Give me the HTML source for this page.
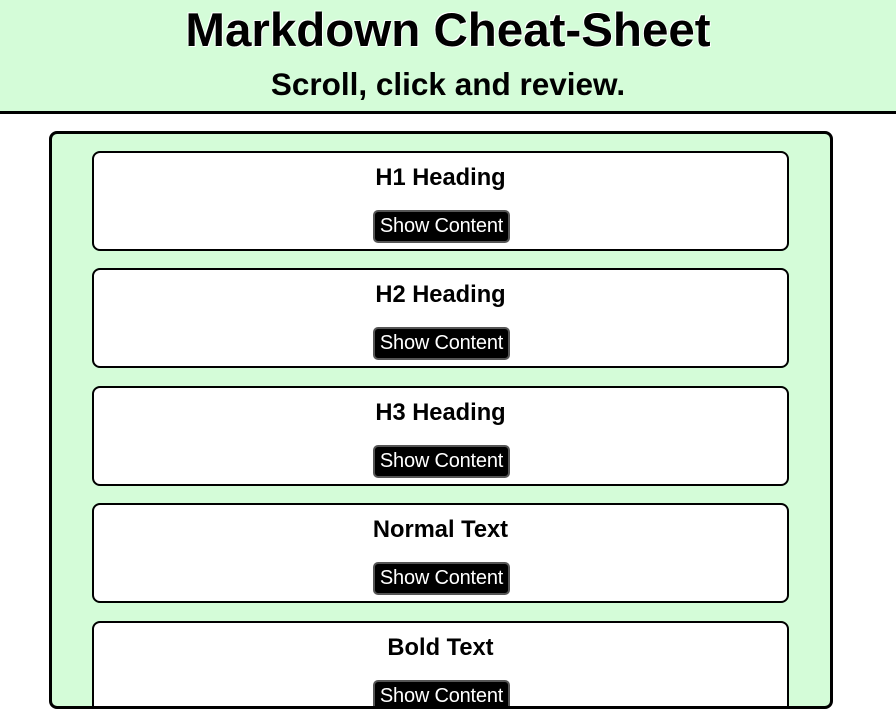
<!DOCTYPE html>
<html><head><meta charset="utf-8"><style>
body{margin:0;width:896px;height:720px;overflow:hidden;background:#fff;font-family:"Liberation Sans",Arial,sans-serif;position:relative}
.hdr{position:absolute;left:0;top:0;width:896px;height:111px;background:#d4fcd8;border-bottom:3px solid #000;text-align:center}
.hdr h1{position:absolute;left:0;right:0;top:4px;margin:0;font-size:47.5px;font-weight:bold;line-height:54px;text-shadow:1px 1px 0 #fff,-1px -1px 0 #fff}
.hdr h2{position:absolute;left:0;right:0;top:67px;margin:0;font-size:31.5px;font-weight:bold;line-height:34px}
.box{position:absolute;left:49px;top:131px;width:778px;height:572px;border:3px solid #000;border-radius:8px;background:#d4fcd8;overflow:hidden}
.card{position:absolute;left:40px;width:693px;height:96px;border:2px solid #000;border-radius:8px;background:#fff;text-align:center}
.card .t{position:absolute;left:0;right:0;top:12px;font-size:23.7px;font-weight:bold;line-height:26px}
.card .b{position:absolute;left:279px;top:57px;width:133px;height:29px;background:#000;color:#fff;border:2px solid #555;border-radius:5px;font-size:20px;line-height:29px;letter-spacing:-0.2px}
</style></head><body>
<div class="hdr"><h1>Markdown Cheat-Sheet</h1><h2>Scroll, click and review.</h2></div>
<div class="box">
<div class="card" style="top:17px"><div class="t">H1 Heading</div><div class="b">Show Content</div></div>
<div class="card" style="top:134px"><div class="t">H2 Heading</div><div class="b">Show Content</div></div>
<div class="card" style="top:252px"><div class="t">H3 Heading</div><div class="b">Show Content</div></div>
<div class="card" style="top:369px"><div class="t">Normal Text</div><div class="b">Show Content</div></div>
<div class="card" style="top:487px"><div class="t">Bold Text</div><div class="b">Show Content</div></div>
</div>
</body></html>
